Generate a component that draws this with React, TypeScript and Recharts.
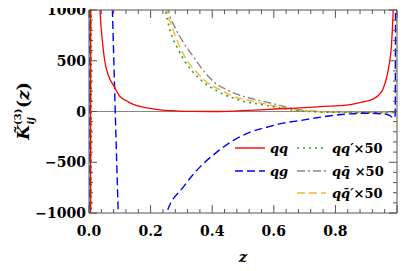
import { LineChart, Line, XAxis, YAxis, ReferenceLine } from 'recharts';

// tick positions and labels
const X_TICKS = [0, 0.04, 0.08, 0.12, 0.16, 0.2, 0.24, 0.28, 0.32, 0.36, 0.4, 0.44, 0.48, 0.52, 0.56, 0.6, 0.64, 0.68, 0.72, 0.76, 0.8, 0.84, 0.88, 0.92, 0.96, 1];
const X_MAJOR = [0, 0.2, 0.4, 0.6, 0.8, 1];
const X_LABELS = [0, 0.2, 0.4, 0.6, 0.8];
const Y_TICKS = [-1000, -900, -800, -700, -600, -500, -400, -300, -200, -100, 0, 100, 200, 300, 400, 500, 600, 700, 800, 900, 1000];
const Y_LABELS = [-1000, -500, 0, 500, 1000];

// series: [z, value]
const QQ: [number, number][] = [
  [0.003, -20000], [0.007, 20000], [0.02, 3000], [0.036, 1000], [0.045, 650], [0.051, 500],
  [0.065, 340], [0.081, 250], [0.1, 150], [0.12, 108], [0.14, 75], [0.176, 42], [0.2, 30],
  [0.23, 17], [0.28, 7], [0.34, 1], [0.4, 0], [0.45, 2], [0.5, 8], [0.555, 17], [0.62, 27],
  [0.7, 38], [0.78, 52], [0.85, 68], [0.89, 95], [0.92, 120], [0.94, 160], [0.955, 225],
  [0.965, 320], [0.975, 470], [0.982, 650], [0.987, 950], [0.992, 1500], [0.996, 3000],
];
const QG: [number, number][] = [
  [0.002, -20000], [0.005, 20000], [0.04, 5000], [0.06, 2500], [0.076, 1000], [0.083, 236],
  [0.095, -1000], [0.12, -3000], [0.17, -3500], [0.21, -2000], [0.252, -1000], [0.306, -745],
  [0.36, -548], [0.415, -400], [0.468, -286], [0.523, -204], [0.577, -155], [0.63, -115],
  [0.685, -89], [0.74, -62], [0.79, -40], [0.847, -23], [0.9, -17], [0.955, -23], [0.977, -40],
  [0.99, -65], [0.994, -40], [0.997, 5000],
];
const QQP50: [number, number][] = [
  [0.006, -20000], [0.01, 30000], [0.15, 6000], [0.22, 1600], [0.248, 1000], [0.263, 800],
  [0.29, 610], [0.312, 490], [0.333, 405], [0.36, 320], [0.387, 255], [0.415, 205], [0.44, 165],
  [0.468, 132], [0.5, 102], [0.566, 65], [0.62, 35], [0.66, 15], [0.7, 3], [0.75, -5],
  [0.8, -8], [0.9, -10], [0.97, -10], [0.995, -8],
];
const QQB50: [number, number][] = [
  [0.004, -20000], [0.008, 30000], [0.15, 6000], [0.23, 1700], [0.258, 1000], [0.279, 831],
  [0.306, 683], [0.344, 519], [0.371, 404], [0.404, 295], [0.447, 215], [0.49, 160], [0.517, 135],
  [0.566, 100], [0.62, 60], [0.66, 30], [0.7, 12], [0.75, 0], [0.8, -6], [0.9, -8], [0.97, -8],
  [0.995, -6],
];
const QQBP50: [number, number][] = [
  [0.005, -20000], [0.009, 30000], [0.15, 6000], [0.225, 1600], [0.252, 1000], [0.268, 847],
  [0.295, 634], [0.322, 486], [0.35, 387], [0.382, 289], [0.425, 215], [0.468, 150], [0.512, 115],
  [0.566, 78], [0.62, 42], [0.66, 20], [0.7, 6], [0.75, -3], [0.8, -7], [0.9, -10], [0.97, -10],
  [0.995, -8],
];

const toRows = (pts: [number, number][]) => pts.map(([z, v]) => ({ z, v }));

const FONT = '"DejaVu Serif", serif';
const FRAME = '#555';
const RED = '#ff0000';
const BLUE = '#0000ff';
const GREEN = '#2ea32e';
const GRAY = '#888';
const ORANGE = '#f9b233';
const DOT = '2 4';
const DASH = '8 4';
const DASHDOT = '8 3 2 3';

const near = (a: number, list: number[]) => list.some((b) => Math.abs(a - b) < 1e-6);
const fmtY = (v: number) => (v < 0 ? '\u2212' + Math.abs(v) : String(v));

function XTick(props: any) {
  const { x, y, payload, side } = props;
  const major = near(payload.value, X_MAJOR);
  const len = major ? 8 : 4;
  const dir = side === 'bottom' ? -1 : 1;
  return (
    <g>
      <line x1={x} x2={x} y1={y} y2={y + dir * len} stroke={FRAME} strokeWidth={1} />
      {side === 'bottom' && near(payload.value, X_LABELS) && (
        <text x={x} y={y + 23} textAnchor="middle" fontFamily={FONT} fontWeight="bold" fontSize={14} fill="#000">
          {payload.value.toFixed(1)}
        </text>
      )}
    </g>
  );
}

function YTick(props: any) {
  const { x, y, payload, side } = props;
  const major = near(payload.value, Y_LABELS);
  const len = major ? 8 : 4;
  const dir = side === 'left' ? 1 : -1;
  return (
    <g>
      <line x1={x} x2={x + dir * len} y1={y} y2={y} stroke={FRAME} strokeWidth={1} />
      {side === 'left' && major && (
        <text x={x - 3} y={y + 5} textAnchor="end" fontFamily={FONT} fontWeight="bold" fontSize={14} fill="#000">
          {fmtY(payload.value)}
        </text>
      )}
    </g>
  );
}

function Overlay() {
  const lab = { fontFamily: FONT, fontWeight: 'bold' as const, fontSize: 13, fill: '#000' };
  return (
    <svg width={407} height={271} style={{ position: 'absolute', left: 0, top: 0, pointerEvents: 'none' }}>
      {/* legend */}
      <line x1={235} x2={265} y1={148} y2={148} stroke={RED} strokeWidth={1.4} />
      <text x={270} y={153} {...lab} fontStyle="italic">qq</text>
      <line x1={235} x2={265} y1={171} y2={171} stroke={BLUE} strokeWidth={1.4} strokeDasharray={DASH} />
      <text x={270} y={176} {...lab} fontStyle="italic">qg</text>
      <line x1={297} x2={326} y1={148} y2={148} stroke={GREEN} strokeWidth={1.6} strokeDasharray={DOT} />
      <text x={332} y={153} {...lab}><tspan fontStyle="italic">qq′</tspan>×50</text>
      <line x1={297} x2={326} y1={171} y2={171} stroke={GRAY} strokeWidth={1.4} strokeDasharray={DASHDOT} />
      <text x={332} y={176} {...lab}><tspan fontStyle="italic">qq̄</tspan> ×50</text>
      <line x1={297} x2={326} y1={193} y2={193} stroke={ORANGE} strokeWidth={1.4} strokeDasharray={DASH} />
      <text x={332} y={198} {...lab}><tspan fontStyle="italic">qq̄′</tspan>×50</text>
      {/* axis titles */}
      <text x={243} y={262} textAnchor="middle" fontFamily={FONT} fontWeight="bold" fontStyle="italic" fontSize={15}>z</text>
      <text x={29} y={111} transform="rotate(-90 29 111)" textAnchor="middle" fontFamily={FONT} fontWeight="bold" fontSize={17}>
        <tspan fontStyle="italic">K̃</tspan>
        <tspan fontSize={10} dy={-8}>(3)</tspan>
        <tspan fontSize={10} fontStyle="italic" dx={-16} dy={13}>ij</tspan>
        <tspan dx={9} dy={-5}>(</tspan>
        <tspan fontStyle="italic">z</tspan>
        <tspan>)</tspan>
      </text>
    </svg>
  );
}

export default function App() {
  return (
    <div style={{ margin: -8, position: 'relative', width: 407, height: 271, background: '#fff' }}>
      <LineChart width={407} height={271} margin={{ top: 0, right: 0, bottom: 0, left: 0 }}>
        <XAxis
          dataKey="z" type="number" domain={[0, 1]} ticks={X_TICKS} interval={0}
          allowDataOverflow height={58} tickSize={0} tickMargin={0}
          axisLine={{ stroke: FRAME }} tickLine={false}
          tick={(p: any) => <XTick {...p} side="bottom" />}
        />
        <XAxis
          xAxisId="top" orientation="top" dataKey="z" type="number" domain={[0, 1]} ticks={X_TICKS} interval={0}
          allowDataOverflow height={10} tickSize={0} tickMargin={0}
          axisLine={{ stroke: FRAME }} tickLine={false}
          tick={(p: any) => <XTick {...p} side="top" />}
        />
        <YAxis
          type="number" domain={[-1000, 1000]} ticks={Y_TICKS} interval={0}
          allowDataOverflow width={89} tickSize={0} tickMargin={0}
          axisLine={{ stroke: FRAME }} tickLine={false}
          tick={(p: any) => <YTick {...p} side="left" />}
        />
        <YAxis
          yAxisId="right" orientation="right" type="number" domain={[-1000, 1000]} ticks={Y_TICKS} interval={0}
          allowDataOverflow width={10} tickSize={0} tickMargin={0}
          axisLine={{ stroke: FRAME }} tickLine={false}
          tick={(p: any) => <YTick {...p} side="right" />}
        />
        <ReferenceLine y={0} stroke={GRAY} strokeWidth={1} ifOverflow="hidden" />
        <Line data={toRows(QQB50)} dataKey="v" type="monotone" stroke={GRAY} strokeWidth={1.4} strokeDasharray={DASHDOT} dot={false} isAnimationActive={false} />
        <Line data={toRows(QQBP50)} dataKey="v" type="monotone" stroke={ORANGE} strokeWidth={1.4} strokeDasharray={DASH} dot={false} isAnimationActive={false} />
        <Line data={toRows(QQP50)} dataKey="v" type="monotone" stroke={GREEN} strokeWidth={1.6} strokeDasharray={DOT} dot={false} isAnimationActive={false} />
        <Line data={toRows(QG)} dataKey="v" type="monotone" stroke={BLUE} strokeWidth={1.4} strokeDasharray={DASH} dot={false} isAnimationActive={false} />
        <Line data={toRows(QQ)} dataKey="v" type="monotone" stroke={RED} strokeWidth={1.3} dot={false} isAnimationActive={false} />
      </LineChart>
      <Overlay />
    </div>
  );
}
